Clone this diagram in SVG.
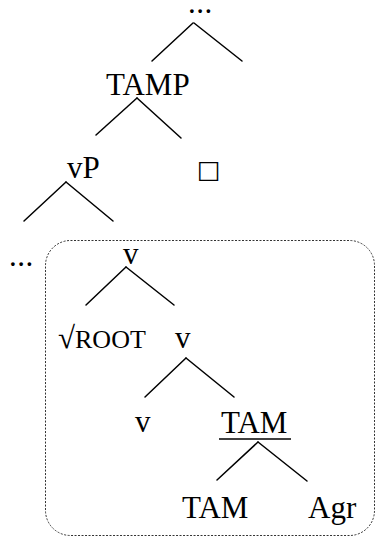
<svg xmlns="http://www.w3.org/2000/svg" width="376" height="537" viewBox="0 0 376 537">
<style>
text{font-family:"Liberation Serif","Times New Roman",serif;font-size:31px;fill:#000}
.e{stroke:#000;stroke-width:1.5;fill:none;stroke-linecap:round}
.box{fill:none;stroke:#333;stroke-width:1;stroke-dasharray:2 1.5}
</style>
<rect width="376" height="537" fill="#fff"/>
<g id="domain"><rect class="box" x="45.5" y="240.5" width="329" height="295" rx="25" ry="25"/></g>
<g id="connectors">
<line class="e" x1="193" y1="23" x2="152" y2="61"/>
<line class="e" x1="194" y1="23" x2="242" y2="61"/>
<line class="e" x1="137" y1="98" x2="96" y2="135"/>
<line class="e" x1="137" y1="98" x2="181" y2="138"/>
<line class="e" x1="66" y1="182" x2="24" y2="221"/>
<line class="e" x1="66" y1="182" x2="113" y2="221"/>
<line class="e" x1="126" y1="267" x2="86" y2="305"/>
<line class="e" x1="126" y1="267" x2="174" y2="305"/>
<line class="e" x1="186" y1="358" x2="145" y2="397"/>
<line class="e" x1="186" y1="358" x2="234" y2="397"/>
<line class="e" x1="258" y1="442" x2="217" y2="480"/>
<line class="e" x1="258" y1="442" x2="307" y2="481"/>
</g>
<g id="top"><text x="188" y="13" style="letter-spacing:0.5px">...</text></g>
<g id="tamp"><text x="106" y="95">TAMP</text></g>
<g id="vP"><text x="67" y="178">vP</text></g>
<g id="square"><text x="197" y="178" style="font-family:'DejaVu Sans',sans-serif;font-size:25px">□</text></g>
<g id="dots"><text x="9" y="266" style="letter-spacing:0.5px">...</text></g>
<g id="v1"><text x="123" y="264">v</text></g>
<g id="root"><text x="58" y="348">√<tspan font-size="26">ROOT</tspan></text></g>
<g id="v2"><text x="175" y="348">v</text></g>
<g id="v3"><text x="135" y="432">v</text></g>
<g id="tam1"><text x="221" y="433">TAM</text><line x1="219" y1="439" x2="291" y2="439" stroke="#000" stroke-width="1.5"/></g>
<g id="tam2"><text x="182" y="518">TAM</text></g>
<g id="agr"><text x="308" y="518">Agr</text></g>
</svg>
